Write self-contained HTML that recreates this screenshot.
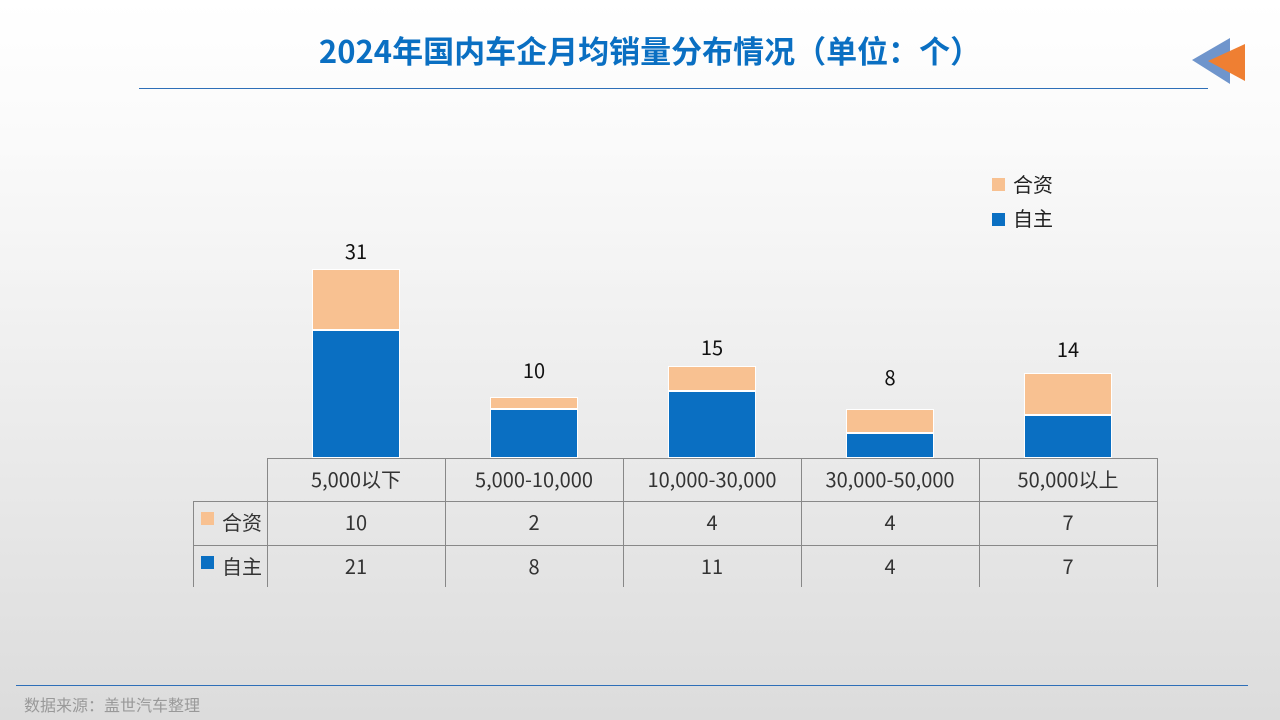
<!DOCTYPE html><html><head><meta charset="utf-8"><style>
body{margin:0}
#p{position:relative;width:1280px;height:720px;overflow:hidden;background:linear-gradient(#fff 0%,#fafafa 20%,#dcdcdc 100%);font-family:"Noto Sans CJK SC","Liberation Sans",sans-serif;color:#222}
.a{position:absolute;line-height:24px}
.t{position:absolute;text-align:center;font-size:20px;color:#333;line-height:24px}
.lbl{position:absolute;width:88px;text-align:center;font-size:20px;color:#111;line-height:24px}
</style></head><body><div id="p">
<div class="a" style="left:0;width:1300px;top:30px;line-height:40px;text-align:center;font-size:31px;font-weight:bold;color:#0a6fc2">2024年国内车企月均销量分布情况（单位：个）</div>
<div class="a" style="left:139px;top:88px;width:1069px;height:1px;background:#2e6fb8"></div>
<svg class="a" style="left:1190px;top:36px" width="60" height="50"><polygon points="2,24 40,2 40,48" fill="#6f95cc"/><polygon points="18,25 55,8 55,45" fill="#ef7f32"/></svg>
<div class="a" style="left:992px;top:178px;width:13px;height:13px;background:#f8c191"></div>
<div class="a" style="left:1013px;top:172px;font-size:20px">合资</div>
<div class="a" style="left:992px;top:213px;width:13px;height:13px;background:#0a6fc2"></div>
<div class="a" style="left:1013px;top:206px;font-size:20px">自主</div>
<div class="a" style="left:312px;top:269px;width:88px;height:61px;background:#f8c191;border:1px solid #fff;box-sizing:border-box"></div>
<div class="a" style="left:312px;top:330px;width:88px;height:128px;background:#0a6fc2;border:1px solid #fff;box-sizing:border-box"></div>
<div class="lbl" style="left:312px;top:239px">31</div>
<div class="a" style="left:490px;top:397px;width:88px;height:12px;background:#f8c191;border:1px solid #fff;box-sizing:border-box"></div>
<div class="a" style="left:490px;top:409px;width:88px;height:49px;background:#0a6fc2;border:1px solid #fff;box-sizing:border-box"></div>
<div class="lbl" style="left:490px;top:358px">10</div>
<div class="a" style="left:668px;top:366px;width:88px;height:25px;background:#f8c191;border:1px solid #fff;box-sizing:border-box"></div>
<div class="a" style="left:668px;top:391px;width:88px;height:67px;background:#0a6fc2;border:1px solid #fff;box-sizing:border-box"></div>
<div class="lbl" style="left:668px;top:335px">15</div>
<div class="a" style="left:846px;top:409px;width:88px;height:24px;background:#f8c191;border:1px solid #fff;box-sizing:border-box"></div>
<div class="a" style="left:846px;top:433px;width:88px;height:25px;background:#0a6fc2;border:1px solid #fff;box-sizing:border-box"></div>
<div class="lbl" style="left:846px;top:365px">8</div>
<div class="a" style="left:1024px;top:373px;width:88px;height:42px;background:#f8c191;border:1px solid #fff;box-sizing:border-box"></div>
<div class="a" style="left:1024px;top:415px;width:88px;height:43px;background:#0a6fc2;border:1px solid #fff;box-sizing:border-box"></div>
<div class="lbl" style="left:1024px;top:337px">14</div>
<div class="a" style="left:267px;top:458px;width:890px;height:1px;background:#888"></div>
<div class="a" style="left:193px;top:501px;width:964px;height:1px;background:#888"></div>
<div class="a" style="left:193px;top:545px;width:964px;height:1px;background:#888"></div>
<div class="a" style="left:193px;top:501px;width:1px;height:86px;background:#888"></div>
<div class="a" style="left:267px;top:458px;width:1px;height:129px;background:#888"></div>
<div class="a" style="left:445px;top:458px;width:1px;height:129px;background:#888"></div>
<div class="a" style="left:623px;top:458px;width:1px;height:129px;background:#888"></div>
<div class="a" style="left:801px;top:458px;width:1px;height:129px;background:#888"></div>
<div class="a" style="left:979px;top:458px;width:1px;height:129px;background:#888"></div>
<div class="a" style="left:1157px;top:458px;width:1px;height:129px;background:#888"></div>
<div class="a" style="left:201px;top:512px;width:13px;height:13px;background:#f8c191"></div>
<div class="a" style="left:222px;top:510px;font-size:20px;color:#333">合资</div>
<div class="a" style="left:201px;top:556px;width:13px;height:13px;background:#0a6fc2"></div>
<div class="a" style="left:222px;top:554px;font-size:20px;color:#333">自主</div>
<div class="t" style="left:267px;width:178px;top:467px">5,000以下</div>
<div class="t" style="left:445px;width:178px;top:467px">5,000-10,000</div>
<div class="t" style="left:623px;width:178px;top:467px">10,000-30,000</div>
<div class="t" style="left:801px;width:178px;top:467px">30,000-50,000</div>
<div class="t" style="left:979px;width:178px;top:467px">50,000以上</div>
<div class="t" style="left:267px;width:178px;top:510px">10</div>
<div class="t" style="left:445px;width:178px;top:510px">2</div>
<div class="t" style="left:623px;width:178px;top:510px">4</div>
<div class="t" style="left:801px;width:178px;top:510px">4</div>
<div class="t" style="left:979px;width:178px;top:510px">7</div>
<div class="t" style="left:267px;width:178px;top:554px">21</div>
<div class="t" style="left:445px;width:178px;top:554px">8</div>
<div class="t" style="left:623px;width:178px;top:554px">11</div>
<div class="t" style="left:801px;width:178px;top:554px">4</div>
<div class="t" style="left:979px;width:178px;top:554px">7</div>
<div class="a" style="left:16px;top:685px;width:1232px;height:1px;background:#2e6fb8"></div>
<div class="a" style="left:24px;top:692px;font-size:16px;color:#999">数据来源：盖世汽车整理</div>
</div></body></html>
